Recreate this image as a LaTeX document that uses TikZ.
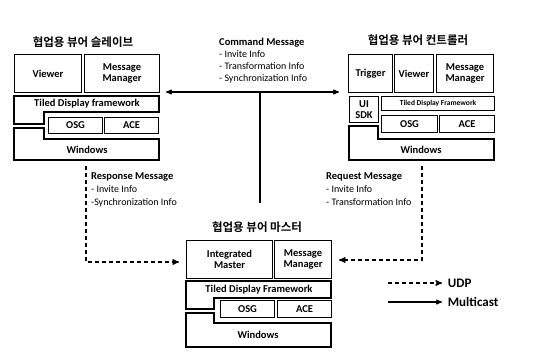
\documentclass[tikz,border=0pt]{standalone}
\usepackage{fontspec}
\setmainfont{Carlito}
\newfontfamily\kr{Noto Sans CJK KR Bold}
\usetikzlibrary{arrows}

\begin{document}
\begin{tikzpicture}[x=1pt,y=-1pt,>=stealth',
  box/.style={draw,line width=1.1pt,anchor=north west,inner sep=0pt,align=center,
    font=\fontsize{10.5}{11}\selectfont\bfseries},
  frame line/.style={draw,line width=1.1pt},
  label node/.style={font=\fontsize{10.5}{11}\selectfont\bfseries},
  title node/.style={font=\kr\fontsize{11.5}{12}\selectfont},
  info node/.style={anchor=north west,align=left,inner sep=0pt,font=\fontsize{10}{12}\selectfont},
  legend node/.style={right,xshift=2pt,font=\fontsize{13}{14}\selectfont\bfseries},
  udp/.style={->,line width=1.3pt,dash pattern=on 4pt off 3pt},
  multicast/.style={->,line width=1.1pt}]

  \useasboundingbox (0,0) rectangle (536,352);

  \node[title node] (stitle) at (83,42) {협업용 뷰어 슬레이브};
  \node[box,minimum width=67pt,minimum height=38pt] (sviewer) at (14,54) {Viewer};
  \node[box,minimum width=75pt,minimum height=38pt] (smsg) at (84,54) {Message\\Manager};
  \draw[frame line] (14,96) -- (159,96) -- (159,112) -- (44,112) -- (44,124) -- (14,124) -- cycle;
  \node[label node] (stdf) at (87,104) {Tiled Display framework};
  \node[box,minimum width=54pt,minimum height=16pt] (sosg) at (48,117) {OSG};
  \node[box,minimum width=54pt,minimum height=16pt] (sace) at (104,117) {ACE};
  \draw[frame line] (14,128) -- (44,128) -- (44,139) -- (159,139) -- (159,160) -- (14,160) -- cycle;
  \node[label node] (swin) at (87,150) {Windows};

  \node[title node] (ctitle) at (418,40) {협업용 뷰어 컨트롤러};
  \node[box,minimum width=44pt,minimum height=38pt] (ctrig) at (348,54) {Trigger};
  \node[box,minimum width=39pt,minimum height=38pt] (cviewer) at (394,54) {Viewer};
  \node[box,minimum width=57pt,minimum height=38pt] (cmsg) at (436,54) {Message\\Manager};
  \node[box,minimum width=29pt,minimum height=26pt] (csdk) at (349,96) {UI\\SDK};
  \node[box,minimum width=113pt,minimum height=14pt,font=\fontsize{7.5}{8}\selectfont\bfseries] (ctdf) at (381,96) {Tiled Display Framework};
  \node[box,minimum width=56pt,minimum height=17pt] (cosg) at (381,115) {OSG};
  \node[box,minimum width=55pt,minimum height=17pt] (cace) at (439,115) {ACE};
  \draw[frame line] (349,126) -- (378,126) -- (378,139) -- (494,139) -- (494,160) -- (349,160) -- cycle;
  \node[label node] (cwin) at (421,150) {Windows};

  \node[title node] (mtitle) at (257,227) {협업용 뷰어 마스터};
  \node[box,minimum width=86pt,minimum height=38pt] (mint) at (186,240) {Integrated\\Master};
  \node[box,minimum width=57pt,minimum height=38pt] (mmsg) at (274,240) {Message\\Manager};
  \draw[frame line] (186,281) -- (331,281) -- (331,298) -- (214,298) -- (214,309) -- (186,309) -- cycle;
  \node[label node] (mtdf) at (259,290) {Tiled Display Framework};
  \node[box,minimum width=54pt,minimum height=17pt] (mosg) at (220,300) {OSG};
  \node[box,minimum width=54pt,minimum height=17pt] (mace) at (277,300) {ACE};
  \draw[frame line] (186,313) -- (214,313) -- (214,323) -- (331,323) -- (331,347) -- (186,347) -- cycle;
  \node[label node] (mwin) at (258,335) {Windows};

  \coordinate (cmdL) at (166,92);
  \coordinate (cmdR) at (339,92);
  \coordinate (cmdJ) at (260,92);
  \coordinate (cmdB) at (260,203);
  \draw[<->,line width=1.1pt] (cmdL) -- (cmdR);
  \draw[line width=1.1pt] (cmdJ) -- (cmdB);
  \node[info node] (cmdtxt) at (219,38)
    {{\fontsize{10.5}{12}\selectfont\bfseries Command Message}\\- Invite Info\\- Transformation Info\\- Synchronization Info};

  \coordinate (rspS) at (86,166);
  \coordinate (rspE) at (179,262);
  \draw[udp] (rspS) |- (rspE);
  \node[info node,font=\fontsize{10}{13}\selectfont] (rsptxt) at (91,172)
    {{\fontsize{10.5}{13}\selectfont\bfseries Response Message}\\- Invite Info\\-Synchronization Info};

  \coordinate (reqS) at (422,166);
  \coordinate (reqE) at (339,260);
  \draw[udp] (reqS) |- (reqE);
  \node[info node,font=\fontsize{10}{13}\selectfont] (reqtxt) at (326,172)
    {{\fontsize{10.5}{13}\selectfont\bfseries Request Message}\\- Invite Info\\- Transformation Info};

  \coordinate (udpA) at (388,283);
  \coordinate (udpB) at (442,283);
  \coordinate (mcA) at (388,302);
  \coordinate (mcB) at (442,302);
  \draw[udp] (udpA) -- (udpB) node[legend node] (udptxt) {UDP};
  \draw[multicast] (mcA) -- (mcB) node[legend node] (mctxt) {Multicast};
\end{tikzpicture}
\end{document}
